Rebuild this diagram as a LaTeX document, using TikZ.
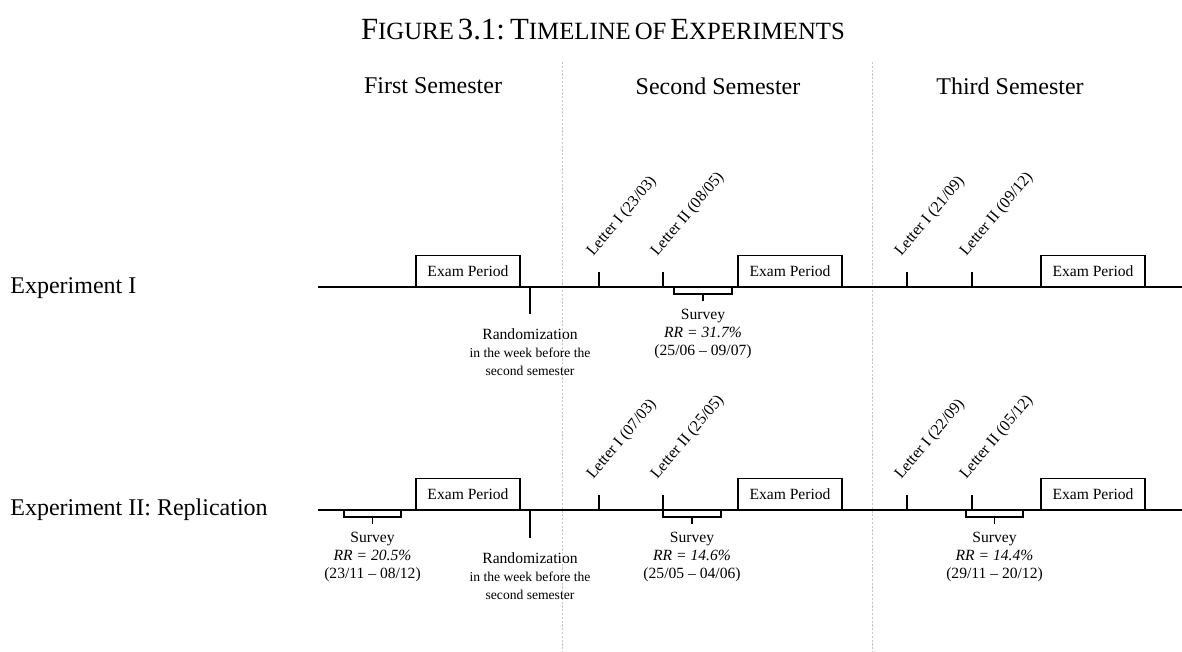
\documentclass[tikz,border=0pt]{standalone}
\usepackage{fontspec}
\setmainfont{Liberation Serif}
\usetikzlibrary{positioning,calc}

\newcommand{\capword}[2]{{\fontsize{15.4}{18}\selectfont #1}{\fontsize{12.4}{14}\selectfont #2}}
\newcommand{\smallnote}{\fontsize{6.8}{7.8}\selectfont}

\begin{document}
\begin{tikzpicture}[x = 0.5pt, y = -0.5pt, node distance = 3pt,
  every node/.style = {inner sep = 0pt, font = \fontsize{7.8}{9}\selectfont},
  head/.style = {font = \fontsize{12}{14}\selectfont},
  exam/.style = {draw, line width = 0.6pt, anchor = south,
    minimum width = 52pt, minimum height = 15.5pt},
  letter/.style = {rotate = 50, anchor = base west, font = \fontsize{8}{9}\selectfont},
  note/.style = {align = center},
  axis/.style = {line width = 0.8pt},
  tick/.style = {line width = 0.6pt},
  divider/.style = {black!22, line width = 0.45pt, dash pattern = on 1.1pt off 0.8pt}]
  \useasboundingbox (0,0) rectangle (1182,652);

  % title and semesters
  \node (title) at (603,30) {\capword{F}{IGURE} {\fontsize{15.4}{18}\selectfont 3.1:}
    \capword{T}{IMELINE} \capword{}{OF} \capword{E}{XPERIMENTS}};
  \node (sem1) [head] at (433,86)  {First Semester};
  \node (sem2) [head] at (718,86)  {Second Semester};
  \node (sem3) [head] at (1010,86) {Third Semester};

  \coordinate (D1top) at (562,62);  \coordinate (D1bot) at (562,652);
  \coordinate (D2top) at (872,62);  \coordinate (D2bot) at (872,652);
  \draw [divider] (D1top) -- (D1bot);
  \draw [divider] (D2top) -- (D2bot);

  % Experiment I
  \node (exp1) [head, anchor = west] at (10,288) {Experiment I};
  \coordinate (A1) at (318,287);
  \coordinate (B1) at (1182,287);
  \draw [axis] (A1) -- (B1);

  \node (E11) [exam] at (468,287)  {Exam Period};
  \node (E12) [exam] at (790,287)  {Exam Period};
  \node (E13) [exam] at (1093,287) {Exam Period};

  \coordinate (R1) at (530,287);
  \draw [tick] (R1) -- ++(0,27) coordinate (R1b);
  \node (rand1) [note, below = 7pt of R1b] {Randomization\\ \smallnote in the week before the\\ \smallnote second semester};

  \coordinate (L11) at (599,287);
  \coordinate (L12) at (663,287);
  \coordinate (L13) at (907,287);
  \coordinate (L14) at (972,287);
  \draw [tick] (L11) -- ++(0,-15) coordinate (L11t);
  \draw [tick] (L12) -- ++(0,-15) coordinate (L12t);
  \draw [tick] (L13) -- ++(0,-15) coordinate (L13t);
  \draw [tick] (L14) -- ++(0,-15) coordinate (L14t);
  \node (let11) [letter] at ($(L11t)+(-6,-15)$) {Letter I (23/03)};
  \node (let12) [letter] at ($(L12t)+(-6,-15)$) {Letter II (08/05)};
  \node (let13) [letter] at ($(L13t)+(-6,-15)$) {Letter I (21/09)};
  \node (let14) [letter] at ($(L14t)+(-6,-15)$) {Letter II (09/12)};

  \coordinate (S1a) at (674,287);
  \coordinate (S1b) at (732,287);
  \draw [tick] (S1a) -- ++(0,7) -| (S1b);
  \draw [tick] ($(S1a)!0.5!(S1b)+(0,7)$) -- ++(0,7) coordinate (S1tip);
  \node (surv1) [note, below = 4pt of S1tip] {Survey\\ \textit{RR = 31.7\%}\\ (25/06 -- 09/07)};

  % Experiment II
  \node (exp2) [head, anchor = west] at (10,510) {Experiment II: Replication};
  \coordinate (A2) at (318,510);
  \coordinate (B2) at (1182,510);
  \draw [axis] (A2) -- (B2);

  \node (E21) [exam] at (468,510)  {Exam Period};
  \node (E22) [exam] at (790,510)  {Exam Period};
  \node (E23) [exam] at (1093,510) {Exam Period};

  \coordinate (R2) at (530,510);
  \draw [tick] (R2) -- ++(0,28) coordinate (R2b);
  \node (rand2) [note, below = 7pt of R2b] {Randomization\\ \smallnote in the week before the\\ \smallnote second semester};

  \coordinate (L21) at (599,510);
  \coordinate (L22) at (663,510);
  \coordinate (L23) at (907,510);
  \coordinate (L24) at (972,510);
  \draw [tick] (L21) -- ++(0,-15) coordinate (L21t);
  \draw [tick] (L22) -- ++(0,-15) coordinate (L22t);
  \draw [tick] (L23) -- ++(0,-15) coordinate (L23t);
  \draw [tick] (L24) -- ++(0,-15) coordinate (L24t);
  \node (let21) [letter] at ($(L21t)+(-6,-15)$) {Letter I (07/03)};
  \node (let22) [letter] at ($(L22t)+(-6,-15)$) {Letter II (25/05)};
  \node (let23) [letter] at ($(L23t)+(-6,-15)$) {Letter I (22/09)};
  \node (let24) [letter] at ($(L24t)+(-6,-15)$) {Letter II (05/12)};

  \coordinate (S2a) at (344,510);
  \coordinate (S2b) at (401,510);
  \draw [tick] (S2a) -- ++(0,7) -| (S2b);
  \draw [tick] ($(S2a)!0.5!(S2b)+(0,7)$) -- ++(0,7) coordinate (S2tip);
  \node (surv2) [note, below = 4pt of S2tip] {Survey\\ \textit{RR = 20.5\%}\\ (23/11 -- 08/12)};

  \coordinate (S3a) at (663,510);
  \coordinate (S3b) at (721,510);
  \draw [tick] (S3a) -- ++(0,7) -| (S3b);
  \draw [tick] ($(S3a)!0.5!(S3b)+(0,7)$) -- ++(0,7) coordinate (S3tip);
  \node (surv3) [note, below = 4pt of S3tip] {Survey\\ \textit{RR = 14.6\%}\\ (25/05 -- 04/06)};

  \coordinate (S4a) at (966,510);
  \coordinate (S4b) at (1023,510);
  \draw [tick] (S4a) -- ++(0,7) -| (S4b);
  \draw [tick] ($(S4a)!0.5!(S4b)+(0,7)$) -- ++(0,7) coordinate (S4tip);
  \node (surv4) [note, below = 4pt of S4tip] {Survey\\ \textit{RR = 14.4\%}\\ (29/11 -- 20/12)};
\end{tikzpicture}
\end{document}
